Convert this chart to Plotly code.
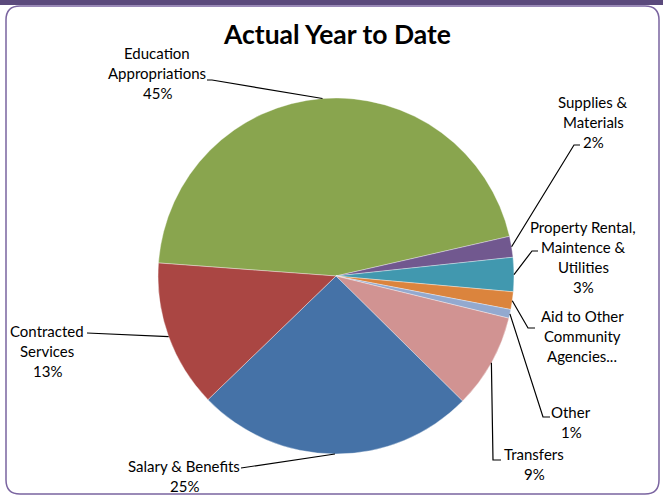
import math
import plotly.graph_objects as go

# Spending categories (clockwise from the left edge) and their year-to-date shares
categories = [
    "Education Appropriations",
    "Supplies & Materials",
    "Property Rental, Maintence & Utilities",
    "Aid to Other Community Agencies",
    "Other",
    "Transfers",
    "Salary & Benefits",
    "Contracted Services",
]
shares = [45.3, 1.9, 3.1, 1.6, 0.8, 8.6, 25.4, 13.4]
label_lines = [
    ["Education", "Appropriations"],
    ["Supplies &", "Materials"],
    ["Property Rental,", "Maintence &", "Utilities"],
    ["Aid to Other", "Community", "Agencies..."],
    ["Other"],
    ["Transfers"],
    ["Salary & Benefits"],
    ["Contracted", "Services"],
]
show_pct = [True, True, True, False, True, True, True, True]
colors = ["#89A54E", "#71588F", "#4198AF", "#DB843D", "#93A9CF",
          "#D19392", "#4572A7", "#AA4643"]

W, H = 663, 498
CX, CY, R = 336, 276, 178
ROTATION = 274.2
FONT = "Lato, Carlito, 'Open Sans', sans-serif"

# label block placement: centre x, first-line y, and leader-line path ends
label_pos = [
    (157, 53), (593, 102), (583, 227), (582, 316),
    (571, 412), (534, 454), (184, 466), (47, 331),
]
leader_path = [
    [(212, 80), (207, 80)],
    [(574, 145), (580, 145)],
    [(532, 251), (538, 251)],
    [(528, 328), (535, 328)],
    [(543, 417), (550, 417)],
    [(493, 460), (501, 460)],
    [(241, 468)],
    [(87, 333)],
]


def px(x):
    return x / W


def py(y):
    return 1 - y / H


fig = go.Figure(go.Pie(
    labels=categories,
    values=shares,
    sort=False,
    direction="clockwise",
    rotation=ROTATION,
    marker=dict(colors=colors, line=dict(color="rgba(255,255,255,0.6)", width=0.6)),
    textinfo="none",
    hoverinfo="label+percent",
    showlegend=False,
    domain=dict(x=[px(CX - R), px(CX + R)], y=[py(CY + R), py(CY - R)]),
))

total = sum(shares)
shapes = []
annotations = []

# frame: dark band along the top and a rounded purple border
shapes.append(dict(type="rect", xref="paper", yref="paper",
                   x0=0, x1=1, y0=py(5), y1=1,
                   fillcolor="#5B4A7C", line=dict(width=0), layer="below"))
r = 14
x0, y0, x1, y1 = 6, 6, 659, 494
border = (f"M {px(x0+r)},{py(y0)} L {px(x1-r)},{py(y0)} "
          f"Q {px(x1)},{py(y0)} {px(x1)},{py(y0+r)} "
          f"L {px(x1)},{py(y1-r)} Q {px(x1)},{py(y1)} {px(x1-r)},{py(y1)} "
          f"L {px(x0+r)},{py(y1)} Q {px(x0)},{py(y1)} {px(x0)},{py(y1-r)} "
          f"L {px(x0)},{py(y0+r)} Q {px(x0)},{py(y0)} {px(x0+r)},{py(y0)} Z")
shapes.append(dict(type="path", xref="paper", yref="paper", path=border,
                   line=dict(color="#7A64A0", width=1.5), layer="below"))

# leader lines start at each slice's mid-angle on the rim
cum = 0.0
for i, v in enumerate(shares):
    mid_cw = ROTATION + (cum + v / 2) / total * 360
    cum += v
    ang = math.radians(90 - mid_cw)
    ax, ay = CX + R * math.cos(ang), CY - R * math.sin(ang)
    pts = [(ax, ay)] + leader_path[i]
    path = "M " + " L ".join(f"{px(x)},{py(y)}" for x, y in pts)
    shapes.append(dict(type="path", xref="paper", yref="paper", path=path,
                       line=dict(color="#000000", width=1.2)))

    lines = list(label_lines[i])
    if show_pct[i]:
        lines.append(f"{round(v / total * 100)}%")
    lx, ly = label_pos[i]
    for k, t in enumerate(lines):
        annotations.append(dict(
            text=t, x=px(lx), y=py(ly + 20 * k), xref="paper", yref="paper",
            showarrow=False, xanchor="center", yanchor="middle",
            font=dict(family=FONT, size=15, color="#000000"),
        ))

annotations.append(dict(
    text="<b>Actual Year to Date</b>", x=px(337), y=py(34),
    xref="paper", yref="paper", showarrow=False,
    xanchor="center", yanchor="middle",
    font=dict(family=FONT, size=26.5, color="#000000"),
))

fig.update_layout(
    width=W, height=H,
    margin=dict(l=0, r=0, t=0, b=0),
    paper_bgcolor="#FFFFFF",
    plot_bgcolor="#FFFFFF",
    shapes=shapes,
    annotations=annotations,
)

fig.write_html("out.html")
